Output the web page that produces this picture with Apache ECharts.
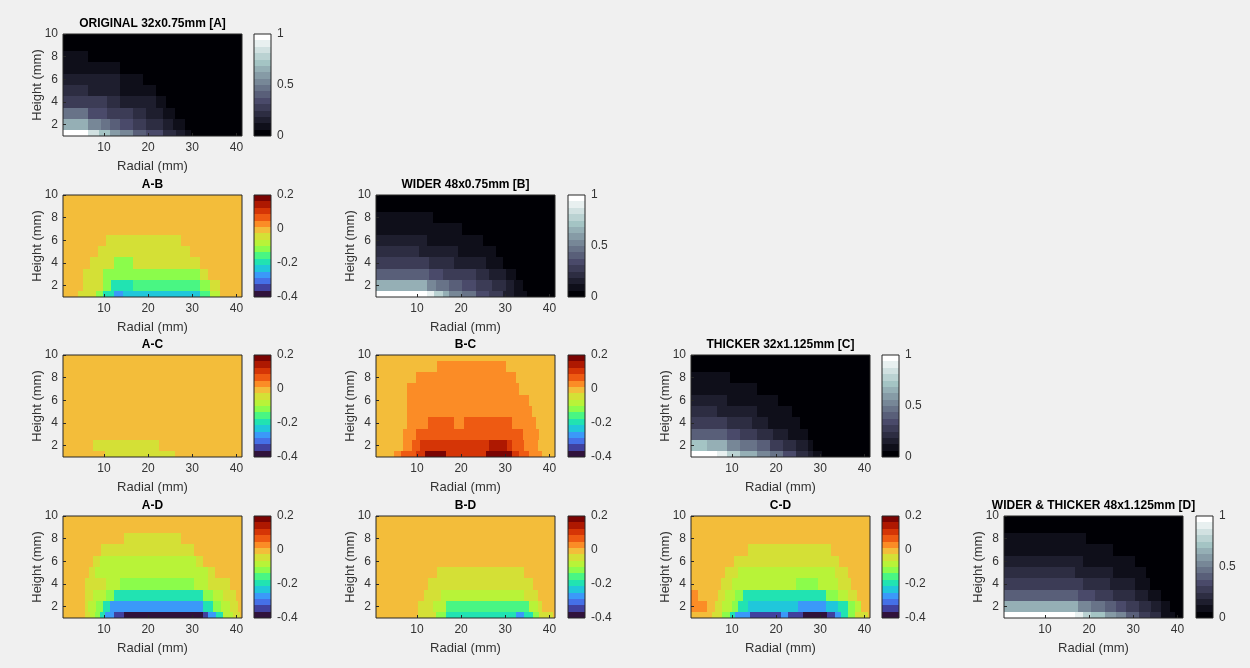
<!DOCTYPE html>
<html>
<head>
<meta charset="utf-8">
<script src="https://cdn.jsdelivr.net/npm/echarts@6/dist/echarts.min.js"></script>
<style>
html, body { margin: 0; padding: 0; background: #f0f0f0; }
#main { width: 1250px; height: 668px; }
</style>
</head>
<body>
<div id="main"></div>
<script>
// axis data
var heights = [1, 2, 3, 4, 5, 6, 7, 8, 9, 10];
var radialStart = 0.75;
var radialEnd = 41.25;
var xTicks = [10, 20, 30, 40];
var yTicks = [2, 4, 6, 8, 10];
var boneTicks = [0, 0.5, 1];
var diffTicks = [-0.4, -0.2, 0, 0.2];
var boneLevels = [0, 0.0625, 0.125, 0.1875, 0.25, 0.3125, 0.375, 0.4375, 0.5, 0.5625, 0.625, 0.6875, 0.75, 0.8125, 0.875, 0.9375, 1];
var diffLevels = [-0.4, -0.3625, -0.325, -0.2875, -0.25, -0.2125, -0.175, -0.1375, -0.1, -0.0625, -0.025, 0.0125, 0.05, 0.0875, 0.125, 0.1625, 0.2];

// palettes (bone(16), turbo(16))
var boneColors = ['#000005', '#0f0f1a', '#1e1e2e', '#2d2d42', '#3c3c56', '#4a4a6a', '#595f79', '#687388',
                  '#778797', '#869ba6', '#95afb5', '#a4c4c4', '#bad2d2', '#d1e1e1', '#e8f0f0', '#ffffff'];
var turboColors = ['#30123b', '#40419f', '#4570e7', '#3b99f9', '#20c7db', '#21e3b2', '#49f683', '#8bfc4b',
                   '#b8f338', '#d4e036', '#f3bd3a', '#fb8c26', '#ee5a12', '#d53506', '#ae1801', '#7a0402'];

// each row (height 1..10) is a list of runs: [radial end (mm), value]
var panelA = [
  [[6.4, 1.0], [9.0, 0.86], [11.3, 0.74], [13.6, 0.62], [16.6, 0.52], [19.6, 0.42], [23.4, 0.32], [26.4, 0.22], [28.3, 0.14], [29.8, 0.08], [41.25, 0.02]],
  [[6.4, 0.64], [9.4, 0.52], [11.3, 0.45], [13.6, 0.4], [16.6, 0.34], [19.6, 0.28], [23.4, 0.21], [25.6, 0.15], [28.3, 0.1], [41.25, 0.02]],
  [[6.4, 0.44], [10.6, 0.36], [13.6, 0.31], [16.6, 0.26], [19.6, 0.2], [23.4, 0.15], [26.0, 0.1], [41.25, 0.02]],
  [[6.4, 0.3], [10.6, 0.26], [13.6, 0.22], [16.6, 0.18], [21.9, 0.14], [24.1, 0.09], [41.25, 0.02]],
  [[6.4, 0.22], [13.6, 0.18], [21.9, 0.12], [41.25, 0.02]],
  [[6.4, 0.17], [13.6, 0.13], [18.8, 0.1], [41.25, 0.02]],
  [[6.4, 0.12], [13.6, 0.09], [41.25, 0.02]],
  [[6.4, 0.08], [41.25, 0.02]],
  [[41.25, 0.02]],
  [[41.25, 0.02]]
];
var panelB = [
  [[12.4, 1.0], [13.9, 0.9], [15.8, 0.78], [17.3, 0.66], [20.3, 0.56], [23.3, 0.46], [26.35, 0.36], [29.4, 0.26], [32.0, 0.16], [33.9, 0.1], [35.0, 0.07], [41.25, 0.02]],
  [[12.4, 0.64], [14.3, 0.54], [17.3, 0.47], [20.3, 0.41], [23.3, 0.35], [27.1, 0.27], [30.1, 0.2], [32.0, 0.14], [33.9, 0.09], [41.25, 0.02]],
  [[12.8, 0.42], [15.8, 0.36], [18.8, 0.3], [23.3, 0.25], [26.35, 0.2], [30.1, 0.14], [32.4, 0.09], [41.25, 0.02]],
  [[12.8, 0.3], [18.45, 0.24], [25.6, 0.17], [29.4, 0.11], [41.25, 0.02]],
  [[10.5, 0.24], [19.2, 0.17], [27.9, 0.11], [41.25, 0.02]],
  [[12.4, 0.18], [20.3, 0.12], [24.85, 0.08], [41.25, 0.02]],
  [[13.55, 0.11], [20.3, 0.07], [41.25, 0.02]],
  [[13.55, 0.08], [41.25, 0.02]],
  [[41.25, 0.02]],
  [[41.25, 0.02]]
];
var panelC = [
  [[6.55, 1.0], [8.8, 0.9], [11.8, 0.78], [15.6, 0.66], [18.6, 0.55], [21.6, 0.44], [24.6, 0.33], [27.25, 0.22], [28.4, 0.14], [30.3, 0.08], [41.25, 0.02]],
  [[4.3, 0.7], [8.8, 0.64], [11.8, 0.55], [15.6, 0.47], [18.6, 0.38], [21.6, 0.3], [24.6, 0.22], [27.25, 0.15], [28.4, 0.09], [41.25, 0.02]],
  [[8.8, 0.4], [11.8, 0.34], [15.6, 0.29], [19.35, 0.24], [22.75, 0.18], [27.25, 0.12], [41.25, 0.02]],
  [[8.8, 0.28], [14.45, 0.22], [18.2, 0.17], [25.4, 0.12], [41.25, 0.02]],
  [[6.55, 0.22], [15.6, 0.16], [23.5, 0.11], [41.25, 0.02]],
  [[8.8, 0.17], [15.6, 0.12], [20.5, 0.08], [41.25, 0.02]],
  [[9.55, 0.11], [15.6, 0.08], [41.25, 0.02]],
  [[9.55, 0.08], [41.25, 0.02]],
  [[41.25, 0.02]],
  [[41.25, 0.02]]
];
var panelD = [
  [[16.74, 1.0], [18.6, 0.9], [20.5, 0.8], [23.5, 0.7], [26.2, 0.6], [28.4, 0.5], [31.4, 0.4], [33.7, 0.3], [36.35, 0.2], [38.2, 0.12], [39.4, 0.07], [41.25, 0.02]],
  [[17.5, 0.66], [20.5, 0.56], [23.5, 0.48], [26.2, 0.42], [28.4, 0.36], [31.4, 0.28], [34.1, 0.2], [36.35, 0.14], [38.2, 0.09], [41.25, 0.02]],
  [[17.5, 0.42], [21.3, 0.36], [25.4, 0.3], [30.3, 0.24], [33.3, 0.18], [36.35, 0.12], [41.25, 0.02]],
  [[18.6, 0.28], [24.65, 0.22], [30.3, 0.16], [33.7, 0.11], [41.25, 0.02]],
  [[16.74, 0.22], [25.4, 0.16], [32.95, 0.1], [41.25, 0.02]],
  [[18.6, 0.17], [25.4, 0.12], [30.3, 0.08], [41.25, 0.02]],
  [[19.4, 0.11], [25.4, 0.07], [41.25, 0.02]],
  [[19.4, 0.08], [41.25, 0.02]],
  [[41.25, 0.02]],
  [[41.25, 0.02]]
];
var diffAB = [
  [[4.15, 0], [8.3, -0.04], [9.8, -0.12], [12.4, -0.19], [14.3, -0.27], [31.7, -0.23], [33.9, -0.155], [36.2, -0.08], [41.25, 0]],
  [[5.3, 0], [9.8, -0.04], [11.7, -0.12], [16.6, -0.19], [31.7, -0.155], [33.9, -0.12], [36.2, -0.04], [41.25, 0]],
  [[5.3, 0], [9.8, -0.04], [31.7, -0.12], [33.55, -0.04], [41.25, 0]],
  [[6.8, 0], [12.4, -0.04], [16.6, -0.12], [31.7, -0.04], [41.25, 0]],
  [[8.67, 0], [29.4, -0.04], [41.25, 0]],
  [[10.55, 0], [27.5, -0.04], [41.25, 0]],
  [[41.25, 0]],
  [[41.25, 0]],
  [[41.25, 0]],
  [[41.25, 0]]
];
var diffAC = [
  [[10.2, 0], [26.2, -0.04], [41.25, 0]],
  [[7.5, 0], [22.4, -0.04], [41.25, 0]],
  [[41.25, 0]],
  [[41.25, 0]],
  [[41.25, 0]],
  [[41.25, 0]],
  [[41.25, 0]],
  [[41.25, 0]],
  [[41.25, 0]],
  [[41.25, 0]]
];
var diffBC = [
  [[4.8, 0], [6.5, 0.03], [9.9, 0.07], [11.8, 0.105], [16.5, 0.18], [25.7, 0.12], [31.5, 0.18], [33.2, 0.105], [35.3, 0.07], [38.4, 0.03], [41.25, 0]],
  [[6.9, 0], [8.8, 0.03], [10.65, 0.07], [26.4, 0.105], [30.5, 0.145], [31.5, 0.105], [34.3, 0.07], [37.4, 0.03], [41.25, 0]],
  [[6.9, 0], [9.75, 0.03], [33.9, 0.07], [37.65, 0.03], [41.25, 0]],
  [[7.8, 0], [12.5, 0.03], [18.5, 0.07], [20.55, 0.03], [31.5, 0.07], [36.9, 0.03], [41.25, 0]],
  [[7.8, 0], [36.0, 0.03], [41.25, 0]],
  [[7.8, 0], [35.3, 0.03], [41.25, 0]],
  [[7.8, 0], [33.2, 0.03], [41.25, 0]],
  [[9.75, 0], [32.4, 0.03], [41.25, 0]],
  [[14.55, 0], [30.2, 0.03], [41.25, 0]],
  [[41.25, 0]]
];
var diffAD = [
  [[5.65, 0], [6.8, -0.04], [7.9, -0.08], [9.05, -0.12], [10.2, -0.19], [12.4, -0.27], [14.45, -0.345], [32.4, -0.38], [33.55, -0.345], [35.45, -0.27], [36.95, -0.19], [39.2, -0.08], [40.7, -0.04], [41.25, 0]],
  [[5.65, 0], [6.4, -0.04], [8.3, -0.08], [9.8, -0.12], [11.3, -0.19], [32.4, -0.27], [34.7, -0.19], [36.6, -0.12], [38.45, -0.08], [40.35, -0.04], [41.25, 0]],
  [[5.65, 0], [7.5, -0.04], [10.55, -0.08], [12.4, -0.12], [32.4, -0.19], [34.7, -0.12], [36.95, -0.08], [39.97, -0.04], [41.25, 0]],
  [[5.65, 0], [10.55, -0.04], [13.6, -0.08], [30.5, -0.12], [33.55, -0.08], [38.45, -0.04], [41.25, 0]],
  [[6.6, 0], [7.9, -0.04], [33.55, -0.08], [35.1, -0.04], [41.25, 0]],
  [[7.5, 0], [9.05, -0.04], [30.9, -0.08], [32.4, -0.04], [41.25, 0]],
  [[9.4, 0], [30.5, -0.04], [41.25, 0]],
  [[14.45, 0], [27.5, -0.04], [41.25, 0]],
  [[41.25, 0]],
  [[41.25, 0]]
];
var diffBD = [
  [[10.3, 0], [14.4, -0.04], [16.65, -0.12], [32.4, -0.19], [34.3, -0.27], [36.2, -0.19], [37.65, -0.12], [40.7, -0.04], [41.25, 0]],
  [[10.3, 0], [13.65, -0.04], [16.65, -0.08], [35.45, -0.155], [37.3, -0.08], [38.4, -0.04], [41.25, 0]],
  [[11.55, 0], [15.5, -0.04], [34.3, -0.08], [37.3, -0.04], [41.25, 0]],
  [[12.5, 0], [36.2, -0.04], [41.25, 0]],
  [[14.55, 0], [34.3, -0.04], [41.25, 0]],
  [[41.25, 0]],
  [[41.25, 0]],
  [[41.25, 0]],
  [[41.25, 0]],
  [[41.25, 0]]
];
var diffCD = [
  [[5.4, 0], [7.7, -0.04], [9.6, -0.12], [10.7, -0.19], [14.1, -0.27], [21.2, -0.345], [22.7, -0.27], [26.1, -0.345], [31.6, -0.38], [33.3, -0.345], [34.8, -0.27], [36.3, -0.19], [37.8, -0.12], [40.8, -0.04], [41.25, 0]],
  [[4.3, 0.03], [6.2, 0], [7.7, -0.04], [9.95, -0.08], [11.45, -0.12], [13.7, -0.19], [25.0, -0.23], [31.4, -0.27], [34.0, -0.23], [36.3, -0.19], [37.8, -0.12], [39.3, -0.08], [41.25, 0]],
  [[2.4, 0.03], [6.9, 0], [8.4, -0.04], [10.7, -0.08], [12.6, -0.12], [31.4, -0.19], [34.0, -0.12], [36.3, -0.08], [38.2, -0.04], [41.25, 0]],
  [[7.5, 0], [9.95, -0.04], [24.6, -0.08], [29.4, -0.12], [34.0, -0.08], [37.05, -0.04], [41.25, 0]],
  [[8.4, 0], [11.45, -0.04], [33.3, -0.08], [36.3, -0.04], [41.25, 0]],
  [[10.5, 0], [34.2, -0.04], [41.25, 0]],
  [[13.55, 0], [32.4, -0.04], [41.25, 0]],
  [[41.25, 0]],
  [[41.25, 0]],
  [[41.25, 0]]
];

var panels = [
  {title: 'ORIGINAL 32x0.75mm [A]', rows: panelA, row: 0, col: 0, map: 'bone'},
  {title: 'A-B', rows: diffAB, row: 1, col: 0, map: 'diff'},
  {title: 'WIDER 48x0.75mm [B]', rows: panelB, row: 1, col: 1, map: 'bone'},
  {title: 'A-C', rows: diffAC, row: 2, col: 0, map: 'diff'},
  {title: 'B-C', rows: diffBC, row: 2, col: 1, map: 'diff'},
  {title: 'THICKER 32x1.125mm [C]', rows: panelC, row: 2, col: 2, map: 'bone'},
  {title: 'A-D', rows: diffAD, row: 3, col: 0, map: 'diff'},
  {title: 'B-D', rows: diffBD, row: 3, col: 1, map: 'diff'},
  {title: 'C-D', rows: diffCD, row: 3, col: 2, map: 'diff'},
  {title: 'WIDER & THICKER 48x1.125mm [D]', rows: panelD, row: 3, col: 3, map: 'bone'}
];

// layout
var colLeft = [63, 376, 691, 1004];
var barLeft = [254, 568, 882, 1196];
var rowTop = [34, 195, 355, 516];
var plotW = 179, plotH = 102, barW = 17;
var textColor = '#333333';
var frameColor = '#262626';

function toCells(rows) {
  var cells = [];
  rows.forEach(function (runs, i) {
    var x0 = radialStart;
    runs.forEach(function (r) {
      cells.push([x0, r[0], heights[i], r[1]]);
      x0 = r[0];
    });
  });
  return cells;
}

function toBands(levels) {
  var bands = [];
  for (var k = 0; k < levels.length - 1; k++) {
    bands.push([levels[k], levels[k + 1], 0, (levels[k] + levels[k + 1]) / 2]);
  }
  return bands;
}

function makePieces(levels, colors) {
  return colors.map(function (c, k) {
    var p = {gte: levels[k], color: c};
    if (k === colors.length - 1) p.lte = levels[k + 1]; else p.lt = levels[k + 1];
    return p;
  });
}

// snap to whole pixels so neighbouring cells meet without seams
function clipTo(params, a, b) {
  var x0 = Math.round(a[0]), y0 = Math.round(a[1]);
  var x1 = Math.round(b[0]), y1 = Math.round(b[1]);
  var cs = params.coordSys;
  return echarts.graphic.clipRectByRect(
    {x: x0, y: y0, width: x1 - x0, height: y1 - y0},
    {x: Math.round(cs.x), y: Math.round(cs.y), width: Math.round(cs.width), height: Math.round(cs.height)}
  );
}

function renderCell(params, api) {
  var a = api.coord([api.value(0), api.value(2) + 0.5]);
  var b = api.coord([api.value(1), api.value(2) - 0.5]);
  var shape = clipTo(params, a, b);
  if (!shape) return;
  return {type: 'rect', shape: shape, style: {fill: api.visual('color')}};
}

function renderBand(params, api) {
  var a = api.coord([0, api.value(1)]);
  var b = api.coord([1, api.value(0)]);
  var shape = clipTo(params, a, b);
  if (!shape) return;
  return {type: 'rect', shape: shape, style: {fill: api.visual('color')}};
}

var option = {
  backgroundColor: '#f0f0f0',
  animation: false,
  textStyle: {fontFamily: 'Liberation Sans, Arial, sans-serif'},
  title: [], grid: [], xAxis: [], yAxis: [], series: [], visualMap: []
};
var boneSeries = [], diffSeries = [];

panels.forEach(function (p) {
  var top = rowTop[p.row];
  var left = colLeft[p.col];
  var isBone = p.map === 'bone';
  var levels = isBone ? boneLevels : diffLevels;
  var ticks = isBone ? boneTicks : diffTicks;

  option.title.push({
    text: p.title, left: left + plotW / 2, top: top - 16, textAlign: 'center', padding: 0,
    textStyle: {fontSize: 12, fontWeight: 'bold', color: '#000'}
  });

  // heat map panel
  var gi = option.grid.length;
  option.grid.push({left: left, top: top, width: plotW, height: plotH, show: true, z: 10,
    borderColor: frameColor, borderWidth: 1, backgroundColor: 'transparent'});
  option.xAxis.push({
    gridIndex: gi, type: 'value', min: radialStart, max: radialEnd, z: 10,
    name: 'Radial (mm)', nameLocation: 'middle', nameGap: 24, nameMoveOverlap: false,
    nameTextStyle: {fontSize: 13, color: textColor},
    axisLine: {show: false},
    axisTick: {show: true, inside: true, length: 3, customValues: xTicks, lineStyle: {color: frameColor}},
    axisLabel: {customValues: xTicks, fontSize: 12, color: textColor, margin: 6},
    splitLine: {show: false}
  });
  option.yAxis.push({
    gridIndex: gi, type: 'value', min: heights[0], max: heights[heights.length - 1], z: 10,
    name: 'Height (mm)', nameLocation: 'middle', nameGap: 19, nameMoveOverlap: false,
    nameTextStyle: {fontSize: 13, color: textColor},
    axisLine: {show: false},
    axisTick: {show: true, inside: true, length: 3, customValues: yTicks, lineStyle: {color: frameColor}},
    axisLabel: {customValues: yTicks, fontSize: 12, color: textColor, margin: 5},
    splitLine: {show: false}
  });
  (isBone ? boneSeries : diffSeries).push(option.series.length);
  option.series.push({
    type: 'custom', xAxisIndex: gi, yAxisIndex: gi, renderItem: renderCell,
    encode: {x: [0, 1], y: 2}, data: toCells(p.rows)
  });

  // colour bar
  var ci = option.grid.length;
  option.grid.push({left: barLeft[p.col], top: top, width: barW, height: plotH, show: true, z: 10,
    borderColor: frameColor, borderWidth: 1, backgroundColor: 'transparent'});
  option.xAxis.push({gridIndex: ci, type: 'value', min: 0, max: 1, show: false});
  option.yAxis.push({
    gridIndex: ci, type: 'value', position: 'right', min: levels[0], max: levels[levels.length - 1], z: 10,
    axisLine: {show: false},
    axisTick: {show: false},
    axisLabel: {customValues: ticks, fontSize: 12, color: textColor, margin: 6},
    splitLine: {show: false}
  });
  (isBone ? boneSeries : diffSeries).push(option.series.length);
  option.series.push({
    type: 'custom', xAxisIndex: ci, yAxisIndex: ci, renderItem: renderBand,
    encode: {x: 2, y: [0, 1]}, data: toBands(levels)
  });
});

option.visualMap.push({type: 'piecewise', show: false, dimension: 3, seriesIndex: boneSeries,
  pieces: makePieces(boneLevels, boneColors)});
option.visualMap.push({type: 'piecewise', show: false, dimension: 3, seriesIndex: diffSeries,
  pieces: makePieces(diffLevels, turboColors)});

var chart = echarts.init(document.getElementById('main'));
chart.setOption(option);
</script>
</body>
</html>
